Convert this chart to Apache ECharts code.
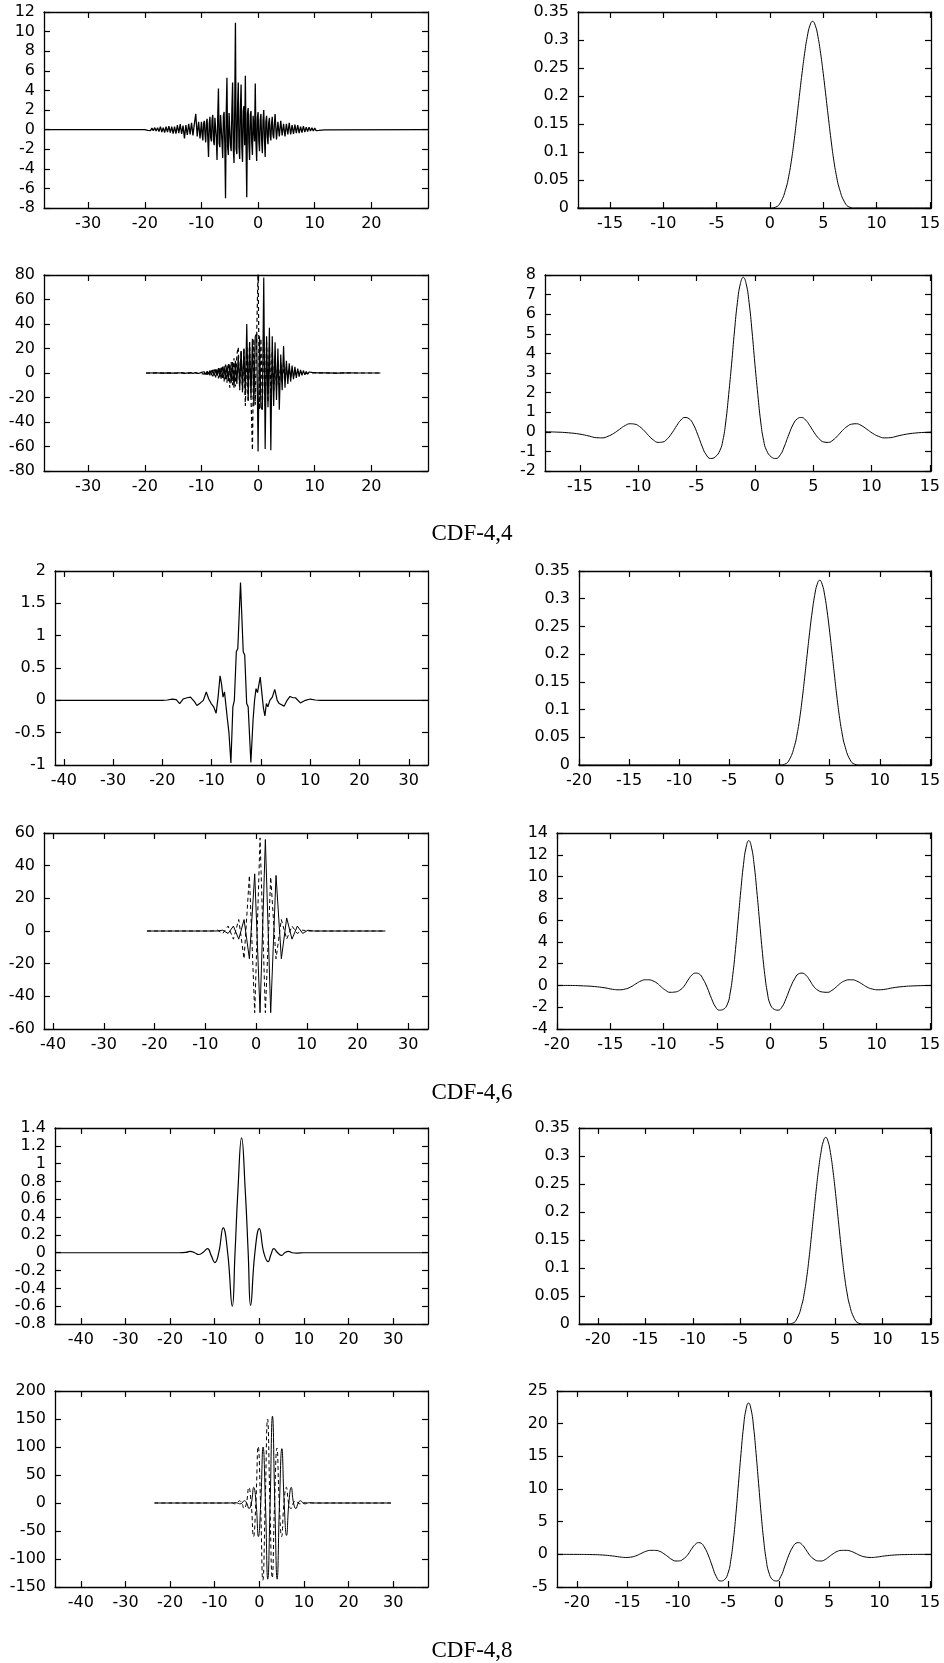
<!DOCTYPE html>
<html><head><meta charset="utf-8">
<script src="https://cdn.jsdelivr.net/npm/echarts@6/dist/echarts.min.js"></script>
<style>html,body{margin:0;padding:0;background:#fff}#c{width:944px;height:1663px}</style>
</head><body><div id="c"></div>
<script>
// ---------- tick labels ----------
const xt44L = [-30,-20,-10,0,10,20];
const xt44R = [-15,-10,-5,0,5,10,15];
const xt46L = [-40,-30,-20,-10,0,10,20,30];
const xt46R = [-20,-15,-10,-5,0,5,10,15];
const xt48L = [-40,-30,-20,-10,0,10,20,30];
const xt48R = [-20,-15,-10,-5,0,5,10,15];
const yt1 = [-8,-6,-4,-2,0,2,4,6,8,10,12];
const ytPhi = [0,0.05,0.1,0.15,0.2,0.25,0.3,0.35];
const yt3 = [-80,-60,-40,-20,0,20,40,60,80];
const yt4 = [-2,-1,0,1,2,3,4,5,6,7,8];
const yt5 = [-1,-0.5,0,0.5,1,1.5,2];
const yt7 = [-60,-40,-20,0,20,40,60];
const yt8 = [-4,-2,0,2,4,6,8,10,12,14];
const yt9 = [-0.8,-0.6,-0.4,-0.2,0,0.2,0.4,0.6,0.8,1,1.2,1.4];
const yt11 = [-150,-100,-50,0,50,100,150,200];
const yt12 = [-5,0,5,10,15,20,25];
const titles = ['CDF-4,4','CDF-4,6','CDF-4,8'];

// ---------- series values [x, y] ----------
const cdf44_dualPhi = [[-37.8,0],[-20,0],[-19.75,0.05],[-19.5,-0.08],[-19.25,0.1],[-19,-0.1],[-18.75,0.15],[-18.5,-0.12],[-18.25,0.2],[-18,-0.15],[-17.75,0.2],[-17.5,-0.2],[-17.25,0.3],[-17,-0.25],[-16.75,0.2],[-16.5,-0.3],[-16.25,0.3],[-16,-0.25],[-15.75,0.35],[-15.5,-0.3],[-15.25,0.3],[-15,-0.4],[-14.75,0.3],[-14.5,-0.4],[-14.25,0.45],[-14,-0.35],[-13.75,0.55],[-13.5,-0.45],[-13.25,0.4],[-13,-0.9],[-12.75,0.45],[-12.5,-0.55],[-12.25,0.6],[-12,-0.5],[-11.75,0.7],[-11.5,-0.6],[-11.25,0.6],[-11,1.6],[-10.75,-0.7],[-10.5,0.8],[-10.25,-0.9],
[-10,0.8],[-9.875,-0.5],[-9.75,-1.1],[-9.625,0.6],[-9.5,0.9],[-9.375,-0.4],[-9.25,-1.3],[-9.125,0.7],[-9,1.1],[-8.875,-0.9],[-8.75,-2.8],[-8.625,0.6],[-8.5,1.3],[-8.375,-0.8],[-8.25,-1.2],[-8.125,1.0],[-8,1.5],[-7.875,-1.1],[-7.75,-1.6],[-7.625,1.2],[-7.5,1.4],[-7.375,-0.9],[-7.25,-3.1],[-7.125,1.3],[-7,4.2],[-6.875,-1.4],[-6.75,-1.8],[-6.625,1.5],[-6.5,1.6],[-6.375,-1.2],[-6.25,-2.9],[-6.125,1.4],[-6,1.8],[-5.875,-1.5],[-5.75,-7.0],[-5.625,1.6],[-5.5,5.3],[-5.375,-1.8],[-5.25,-2.6],[-5.125,1.7],[-5,1.9],[-4.875,-1.6],[-4.75,-2.2],[-4.625,2.0],[-4.5,4.8],[-4.375,-1.9],[-4.25,-3.4],[-4.125,2.1],[-4,10.9],[-3.875,-2.0],[-3.75,-2.5],[-3.625,2.2],[-3.5,4.8],[-3.375,-1.8],[-3.25,-3.0],[-3.125,2.0],[-3,4.6],[-2.875,-1.7],[-2.75,-3.3],[-2.625,1.9],[-2.5,2.4],[-2.375,-1.6],[-2.25,5.5],[-2.125,-1.5],[-2,-6.9],[-1.875,1.6],[-1.75,2.2],[-1.625,-1.4],[-1.5,-3.1],[-1.375,1.5],[-1.25,1.9],[-1.125,-1.3],[-1,-2.6],[-0.875,1.4],[-0.75,1.6],[-0.625,-1.2],[-0.5,4.7],[-0.375,-1.3],[-0.25,-3.2],[-0.125,1.2],[0,1.8],[0.125,-1.1],[0.25,-2.2],[0.375,1.0],[0.5,1.6],[0.625,-1.0],[0.75,-2.4],[0.875,0.9],[1,2.0],[1.125,-0.9],[1.25,-2.8],[1.375,0.8],[1.5,1.4],[1.625,-0.7],[1.75,-1.5],[1.875,0.7],[2,1.2],[2.125,-0.6],[2.25,-1.1],[2.375,0.6],[2.5,1.3],[2.625,-0.5],[2.75,-0.9],[2.875,0.5],[3,1.6],
[3.25,-1.0],[3.5,0.8],[3.75,-0.7],[4,0.9],[4.25,-0.6],[4.5,0.6],[4.75,-0.7],[5,0.6],[5.25,-0.5],[5.5,0.7],[5.75,-0.5],[6,0.45],[6.25,-0.45],[6.5,0.5],[6.75,-0.35],[7,0.45],[7.25,-0.35],[7.5,0.3],[7.75,-0.3],[8,0.35],[8.25,-0.25],[8.5,0.25],[8.75,-0.2],[9,0.25],[9.25,-0.15],[9.5,0.2],[9.75,-0.15],[10,0.15],[10.25,-0.1],[10.5,0.1],[10.75,-0.08],[11,0.06],[11.25,-0.05],[11.5,0.03],[11.75,-0.02],[12,0],[30,0]];

const bspline = [[-22,0],[0,0],[0.5,0.0013],[1,0.0104],[1.5,0.0352],[1.75,0.0558],[2,0.0833],[2.25,0.118],[2.5,0.1576],[2.75,0.199],[3,0.2396],[3.25,0.2762],[3.5,0.306],[3.75,0.326],[4,0.3333],[4.25,0.326],[4.5,0.306],[4.75,0.2762],[5,0.2396],[5.25,0.199],[5.5,0.1576],[5.75,0.118],[6,0.0833],[6.25,0.0558],[6.5,0.0352],[7,0.0104],[7.5,0.0013],[8,0],[15.1,0]];

const cdf44_dualPsiA = [[-19.8,0],[-18,0.1],[-17,-0.1],[-16,0.15],[-15,-0.15],[-14,0.2],[-13,-0.25],[-12,0.3],[-11.5,-0.35],[-11,0.4],[-10.5,-0.45],[-10,0.5],[-9.75,-0.8],[-9.5,1.0],[-9.25,-1.2],[-9,1.5],[-8.75,-1.0],[-8.5,2.0],[-8.25,-1.8],[-8,2.5],[-7.75,-2.2],[-7.5,3.0],[-7.25,-2.5],[-7,4.0],[-6.75,-3.5],[-6.5,4.5],[-6.25,-4.0],[-6,5.5],[-5.75,-5.0],[-5.5,6.0],[-5.25,-6.5],[-5,7.0],[-4.75,-8.0],[-4.5,9.0],[-4.25,-12],[-4,10],[-3.75,-9],[-3.5,14],[-3.25,-11],[-3,18],[-2.75,-14],[-2.5,20],[-2.25,-18],[-2,40],[-1.75,-22],[-1.5,25],[-1.25,-20],[-1,28],[-0.75,-27],[-0.5,30],[-0.25,32],[0,-64],[0.25,30],[0.5,-28],[0.75,-30],[1,78],[1.25,-62],[1.5,30],[1.75,-28],[2,37],[2.25,-63],[2.5,30],[2.75,-27],[3,25],[3.25,-22],[3.5,20],[3.75,-30],[4,15],[4.25,-14],[4.5,22],[4.75,-12],[5,10],[5.25,-9],[5.5,8],[5.75,-7],[6,6],[6.25,-5],[6.5,5],[6.75,-4],[7,3.5],[7.25,-3],[7.5,2.5],[7.75,-2],[8,2],[8.25,-1.5],[8.5,1.2],[8.75,-1],[9,0.8],[9.25,-0.6],[9.5,0.5],[9.75,-0.4],[10,0.3],[10.25,-0.2],[10.5,0.1],[12,0.1],[14,-0.1],[16,0.05],[18,0],[21.6,0]];

const cdf44_dualPsiB = [[-19.8,0],[-18.5,-0.1],[-17.5,0.1],[-16.5,-0.15],[-15.5,0.15],[-14.5,-0.2],[-13.5,0.25],[-12.5,-0.3],[-11.5,0.35],[-10.5,-0.4],[-10,-0.4],[-9.75,0.6],[-9.5,-0.9],[-9.25,1.1],[-9,-1.4],[-8.75,1.8],[-8.5,-2.0],[-8.25,2.2],[-8,-2.8],[-7.75,3.0],[-7.5,-3.5],[-7.25,3.8],[-7,-4.5],[-6.75,5],[-6.5,-5.5],[-6.25,6],[-6,-7],[-5.75,7],[-5.5,-8],[-5.25,8],[-5,-12],[-4.75,9],[-4.5,-10],[-4.25,12],[-4,-11],[-3.75,15],[-3.5,21],[-3.25,-14],[-3,18],[-2.75,-16],[-2.5,20],[-2.25,-27],[-2,22],[-1.75,-24],[-1.5,25],[-1.25,-20],[-1,-63],[-0.75,28],[-0.5,-26],[-0.25,30],[0,85],[0.25,-30],[0.5,28],[0.75,-29],[1,30],[1.25,-27],[1.5,25],[1.75,-24],[2,22],[2.25,-20],[2.5,18],[2.75,-16],[3,14],[3.25,-12],[3.5,11],[3.75,-10],[4,9],[4.25,-8],[4.5,7],[4.75,-6],[5,5],[5.25,-4.5],[5.5,4],[5.75,-3.5],[6,3],[6.25,-2.5],[6.5,2],[6.75,-1.8],[7,1.5],[7.25,-1.2],[7.5,1],[7.75,-0.8],[8,0.6],[8.25,-0.5],[8.5,0.4],[8.75,-0.3],[9,0.2],[9.5,0],[11,0.1],[13,-0.1],[15,0.05],[17,0],[21.6,0]];

const cdf44_psi = [[-18,0],[-17,-0.015],[-16,-0.05],[-15,-0.12],[-14.2,-0.22],[-13.6,-0.3],[-13.1,-0.31],[-12.6,-0.23],[-12.1,-0.08],[-11.6,0.13],[-11.1,0.33],[-10.7,0.41],[-10.3,0.39],[-9.9,0.27],[-9.5,0.06],[-9.1,-0.2],[-8.7,-0.42],[-8.3,-0.54],[-7.9,-0.52],[-7.5,-0.35],[-7.1,-0.05],[-6.7,0.32],[-6.35,0.6],[-6,0.73],[-5.65,0.67],[-5.3,0.4],[-4.9,-0.15],[-4.5,-0.78],[-4.2,-1.15],[-3.8,-1.36],[-3.4,-1.28],[-3,-0.95],[-2.75,-0.45],[-2.5,0.5],[-2.25,1.9],[-2,3.45],[-1.75,5.15],[-1.5,6.6],[-1.25,7.55],[-1,7.88],[-0.75,7.55],[-0.5,6.6],[-0.25,5.15],[0,3.45],[0.25,1.9],[0.5,0.5],[0.75,-0.45],[1,-0.95],[1.4,-1.28],[1.8,-1.36],[2.2,-1.15],[2.5,-0.78],[2.9,-0.15],[3.3,0.4],[3.65,0.67],[4,0.73],[4.35,0.6],[4.7,0.32],[5.1,-0.05],[5.5,-0.35],[5.9,-0.52],[6.3,-0.54],[6.7,-0.42],[7.1,-0.2],[7.5,0.06],[7.9,0.27],[8.3,0.39],[8.7,0.41],[9.1,0.33],[9.6,0.13],[10.1,-0.08],[10.6,-0.23],[11.1,-0.31],[11.6,-0.3],[12.2,-0.22],[13,-0.12],[14,-0.05],[15,-0.015],[15.1,0]];

const cdf46_dualPhi = [[-41.8,0],[-20,0],[-19,0.005],[-18,0.02],[-17.2,0.01],[-16.5,-0.05],[-15.8,0.02],[-15,0.04],[-14.3,0.05],[-13.5,-0.02],[-13,-0.08],[-12.3,-0.04],[-11.7,0],[-11.1,0.13],[-10.6,0.02],[-10.1,-0.05],[-9.6,-0.1],[-9.1,-0.2],[-8.7,0.05],[-8.3,0.38],[-8.0,0.25],[-7.7,0.05],[-7.4,0.13],[-7.1,0.1],[-6.8,-0.3],[-6.5,-0.5],[-6.1,-0.97],[-5.7,-0.1],[-5.4,0.0],[-5.0,0.75],[-4.7,0.8],[-4.15,1.82],[-3.6,0.75],[-3.3,0.7],[-2.9,-0.05],[-2.6,-0.1],[-2.05,-0.96],[-1.6,-0.3],[-1.3,0.0],[-1.0,0.18],[-0.7,0.12],[-0.4,0.25],[-0.15,0.36],[0.2,0.1],[0.5,-0.12],[0.8,-0.24],[1.1,-0.05],[1.4,-0.1],[1.8,0.0],[2.3,0.05],[2.8,0.17],[3.3,0.0],[3.7,-0.05],[4.1,-0.04],[4.7,-0.09],[5.3,0.0],[5.9,0.06],[6.5,0.04],[7.0,0.04],[8.0,-0.04],[9.0,0.0],[10.0,0.02],[11,0.005],[12,0],[33.9,0]];

const cdf46_dualPsiA = [[-21.5,0],[-7.61,0],[-6.56,0.5],[-5.51,-1.5],[-4.46,3],[-3.41,-5],[-2.36,7],[-1.31,-17],[-0.26,35],[0.79,-50],[1.84,56],[2.89,-50],[3.94,34],[4.99,-17],[6.04,8],[7.09,-5],[8.14,3],[9.19,-1.5],[10.24,0.5],[11.29,0],[25.5,0]];
const cdf46_dualPsiB = [[-21.5,0],[-8.66,0],[-7.61,0.5],[-6.56,-1.5],[-5.51,3],[-4.46,-5],[-3.41,7],[-2.36,-17],[-1.31,34],[-0.26,-50],[0.79,57],[1.84,-50],[2.89,33],[3.94,-17],[4.99,7],[6.04,-5],[7.09,3],[8.14,-1.5],[9.19,0.5],[10.24,0],[25.5,0]];

const cdf46_psi = [[-20,0],[-19,0],[-17.5,-0.04],[-16.5,-0.1],[-15.5,-0.22],[-14.8,-0.35],[-14.2,-0.4],[-13.6,-0.33],[-13.1,-0.15],[-12.6,0.15],[-12.1,0.42],[-11.7,0.52],[-11.4,0.52],[-11,0.42],[-10.6,0.2],[-10.2,-0.15],[-9.8,-0.45],[-9.4,-0.63],[-8.9,-0.6],[-8.5,-0.45],[-8.1,-0.1],[-7.7,0.5],[-7.35,0.95],[-7,1.13],[-6.65,1.05],[-6.3,0.6],[-5.9,-0.2],[-5.5,-1.2],[-5.1,-2.0],[-4.75,-2.27],[-4.4,-2.2],[-4,-1.7],[-3.75,-0.7],[-3.5,1.0],[-3.25,3.3],[-3,6.0],[-2.75,8.7],[-2.5,11.1],[-2.25,12.7],[-2,13.3],[-1.75,12.7],[-1.5,11.1],[-1.25,8.7],[-1,6.0],[-0.75,3.3],[-0.5,1.0],[-0.25,-0.7],[0,-1.7],[0.4,-2.2],[0.75,-2.27],[1.1,-2.0],[1.5,-1.2],[1.9,-0.2],[2.3,0.6],[2.65,1.05],[3,1.13],[3.35,0.95],[3.7,0.5],[4.1,-0.1],[4.5,-0.45],[4.9,-0.6],[5.4,-0.63],[5.8,-0.45],[6.2,-0.15],[6.6,0.2],[7,0.42],[7.4,0.52],[7.7,0.52],[8.1,0.42],[8.6,0.15],[9.1,-0.15],[9.6,-0.33],[10.2,-0.4],[10.8,-0.35],[11.5,-0.22],[12.5,-0.1],[13.5,-0.04],[15.1,0]];

const cdf48_dualPhi = [[-45.8,0],[-18,0],[-16.5,0.003],[-15.5,0.015],[-14.5,0],[-13.6,-0.02],[-12.6,0.005],[-11.6,0.045],[-10.8,-0.03],[-9.97,-0.11],[-9.1,0],[-8.1,0.28],[-7.1,0],[-6.06,-0.6],[-5.45,0],[-4.8,0.7],[-3.98,1.29],[-3.16,0.7],[-2.5,0],[-1.96,-0.59],[-1.0,0],[0.0,0.27],[1.0,0],[1.97,-0.1],[2.6,-0.02],[3.24,0.045],[4.1,0],[5.0,-0.03],[5.7,0],[6.5,0.015],[7.4,0],[8.3,-0.005],[10,0],[37.8,0]];

const cdf48_dualPsiA = [[-23.5,0],[-6.5,0],[-5.46,0.5],[-4.935,0],[-4.41,-1.5],[-3.885,0],[-3.36,4],[-2.835,0],[-2.31,-10],[-1.785,0],[-1.26,28],[-0.735,0],[-0.21,-60],[0.315,0],[0.84,100],[1.365,0],[1.89,-136],[2.415,0],[2.94,155],[3.465,0],[3.99,-136],[4.515,0],[5.04,97],[5.565,0],[6.09,-58],[6.615,0],[7.14,28],[7.665,0],[8.19,-10],[8.715,0],[9.24,4],[9.765,0],[10.29,-1.5],[10.815,0],[11.34,0.5],[12.4,0],[29.5,0]];
const cdf48_dualPsiB = [[-23.5,0],[-7.6,0],[-6.56,0.5],[-6.035,0],[-5.51,-1.5],[-4.985,0],[-4.46,4],[-3.935,0],[-3.41,-10],[-2.885,0],[-2.36,28],[-1.835,0],[-1.31,-60],[-0.785,0],[-0.26,101],[0.265,0],[0.79,-138],[1.315,0],[1.84,150],[2.365,0],[2.89,-134],[3.415,0],[3.94,98],[4.465,0],[4.99,-60],[5.515,0],[6.04,28],[6.565,0],[7.09,-10],[7.615,0],[8.14,4],[8.665,0],[9.19,-1.5],[9.715,0],[10.24,0.5],[11.3,0],[29.5,0]];

const cdf48_psi = [[-22,0],[-20,-0.01],[-18.5,-0.04],[-17.5,-0.1],[-16.5,-0.25],[-15.8,-0.4],[-15.2,-0.48],[-14.7,-0.43],[-14.2,-0.25],[-13.7,0.1],[-13.2,0.45],[-12.7,0.61],[-12.2,0.6],[-11.8,0.45],[-11.4,0.1],[-11,-0.35],[-10.6,-0.8],[-10.2,-1.02],[-9.85,-1.0],[-9.5,-0.75],[-9.1,-0.2],[-8.7,0.7],[-8.3,1.5],[-7.95,1.79],[-7.7,1.7],[-7.4,1.15],[-7,-0.1],[-6.6,-1.8],[-6.2,-3.4],[-5.8,-4.08],[-5.4,-3.9],[-5,-2.7],[-4.75,-0.8],[-4.5,2.2],[-4.25,6.2],[-4,10.8],[-3.75,15.4],[-3.5,19.5],[-3.25,22.2],[-3,23.16],[-2.75,22.2],[-2.5,19.5],[-2.25,15.4],[-2,10.8],[-1.75,6.2],[-1.5,2.2],[-1.25,-0.8],[-1,-2.7],[-0.6,-3.9],[-0.2,-4.08],[0.2,-3.4],[0.6,-1.8],[1,-0.1],[1.4,1.15],[1.7,1.7],[1.95,1.79],[2.3,1.5],[2.7,0.7],[3.1,-0.2],[3.5,-0.75],[3.85,-1.0],[4.2,-1.02],[4.6,-0.8],[5,-0.35],[5.4,0.1],[5.8,0.45],[6.2,0.6],[6.7,0.61],[7.2,0.45],[7.7,0.1],[8.2,-0.25],[8.7,-0.43],[9.2,-0.48],[9.8,-0.4],[10.5,-0.25],[11.5,-0.1],[12.5,-0.04],[14,-0.01],[15.1,0]];

// ---------- layout ----------
const FONT = 'DejaVu Sans';
const panels = [
  {g:{left:44,top:12,width:384,height:196}, xr:[-37.8,30], xt:xt44L, yr:[-8,12], yt:yt1, s:[{d:cdf44_dualPhi,w:1.3}]},
  {g:{left:578,top:12,width:353,height:196}, xr:[-18,15.1], xt:xt44R, yr:[0,0.35], yt:ytPhi, s:[{d:bspline,sm:true}]},
  {g:{left:44,top:275,width:384,height:196}, xr:[-37.8,30], xt:xt44L, yr:[-80,80], yt:yt3, s:[{d:cdf44_dualPsiA,w:1.2},{d:cdf44_dualPsiB,dash:true,w:1.2}]},
  {g:{left:545,top:275,width:386,height:196}, xr:[-18,15.1], xt:xt44R, yr:[-2,8], yt:yt4, s:[{d:cdf44_psi,sm:true}]},
  {g:{left:55,top:571,width:373,height:194}, xr:[-41.8,33.9], xt:xt46L, yr:[-1,2], yt:yt5, s:[{d:cdf46_dualPhi,w:1.2}]},
  {g:{left:579,top:571,width:352,height:194}, xr:[-20,15.1], xt:xt46R, yr:[0,0.35], yt:ytPhi, s:[{d:bspline,sm:true}]},
  {g:{left:44,top:833,width:384,height:196}, xr:[-41.8,33.9], xt:xt46L, yr:[-60,60], yt:yt7, s:[{d:cdf46_dualPsiA},{d:cdf46_dualPsiB,dash:true}]},
  {g:{left:557,top:833,width:374,height:196}, xr:[-20,15.1], xt:xt46R, yr:[-4,14], yt:yt8, s:[{d:cdf46_psi,sm:true}]},
  {g:{left:55,top:1128,width:373,height:196}, xr:[-45.8,37.8], xt:xt48L, yr:[-0.8,1.4], yt:yt9, s:[{d:cdf48_dualPhi,sm:true,w:1.2}]},
  {g:{left:579,top:1128,width:352,height:196}, xr:[-22,15.1], xt:xt48R, yr:[0,0.35], yt:ytPhi, s:[{d:bspline,sm:true}]},
  {g:{left:55,top:1391,width:373,height:196}, xr:[-45.8,37.8], xt:xt48L, yr:[-150,200], yt:yt11, s:[{d:cdf48_dualPsiA,sm:true},{d:cdf48_dualPsiB,sm:true,dash:true}]},
  {g:{left:557,top:1391,width:374,height:196}, xr:[-22,15.1], xt:xt48R, yr:[-5,25], yt:yt12, s:[{d:cdf48_psi,sm:true}]}
];
const titlePos = [530, 1089, 1647];

const fmt = v => String(+(+v).toFixed(4));
const grid=[], xAxis=[], yAxis=[], series=[];
panels.forEach((p,i)=>{
  grid.push(Object.assign({containLabel:false}, p.g));
  const line = {show:true, onZero:false, lineStyle:{color:'#000', width:1.3}};
  const mkX = (pos, lab) => ({type:'value', gridIndex:i, position:pos, min:p.xr[0], max:p.xr[1],
    axisLine:line, splitLine:{show:false},
    axisTick:{show:true, inside:true, length:6, customValues:p.xt, lineStyle:{color:'#000', width:1.2}},
    axisLabel:{show:lab, customValues:p.xt, margin:8, color:'#000', fontSize:16, fontFamily:FONT, formatter:fmt}});
  const mkY = (pos, lab) => ({type:'value', gridIndex:i, position:pos, min:p.yr[0], max:p.yr[1],
    axisLine:line, splitLine:{show:false},
    axisTick:{show:true, inside:true, length:6, customValues:p.yt, lineStyle:{color:'#000', width:1.2}},
    axisLabel:{show:lab, customValues:p.yt, margin:9, color:'#000', fontSize:16, fontFamily:FONT, formatter:fmt}});
  xAxis.push(mkX('bottom', true)); xAxis.push(mkX('top', false));
  yAxis.push(mkY('left', true)); yAxis.push(mkY('right', false));
  p.s.forEach(s=>{
    series.push({type:'line', xAxisIndex:2*i, yAxisIndex:2*i, data:s.d, symbol:'none', showSymbol:false,
      smooth:!!s.sm, silent:true, animation:false, clip:true,
      lineStyle:{color:'#000', width:s.w || 1, type: s.dash ? [4,3] : 'solid'}});
  });
});
const graphic = titles.map((t,k)=>({type:'text', left:'center', top:titlePos[k]-8,
  style:{text:t, font:'23px "Liberation Serif"', fill:'#000'}}));

const chart = echarts.init(document.getElementById('c'), null, {renderer:'canvas'});
chart.setOption({animation:false, backgroundColor:'#fff', grid, xAxis, yAxis, series, graphic});
</script>
</body></html>
